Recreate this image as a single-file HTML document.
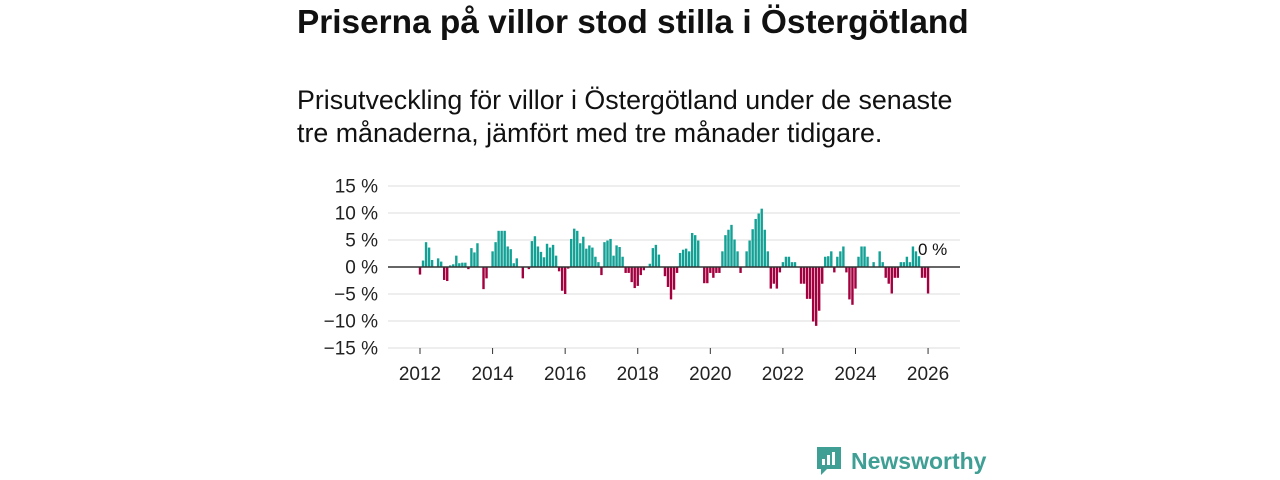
<!DOCTYPE html>
<html><head><meta charset="utf-8"><style>
body{margin:0;width:1280px;height:480px;background:#fff;font-family:"Liberation Sans","DejaVu Sans",sans-serif;color:#111;position:relative;overflow:hidden}
h1{position:absolute;left:297px;top:4px;margin:0;font-size:33.4px;font-weight:bold;white-space:nowrap}
.sub{position:absolute;left:297px;top:84px;margin:0;font-size:26.8px;line-height:33px;width:680px}
svg{position:absolute;left:0;top:0}
.logo{position:absolute;left:815px;top:445px;display:flex;align-items:center;gap:8px;color:#3f9f95;font-size:23px;font-weight:bold}
</style></head><body>
<h1>Priserna på villor stod stilla i Östergötland</h1>
<p class="sub">Prisutveckling för villor i Östergötland under de senaste<br>tre månaderna, jämfört med tre månader tidigare.</p>
<svg id="chart" width="1280" height="480"></svg>
<div class="logo">
<svg width="28" height="32" viewBox="0 0 28 32" style="position:static"><path d="M2 2h24v22H12l-6 6v-6H2z" fill="#3f9f95"/><rect x="7" y="14" width="3" height="6" fill="#fff"/><rect x="12" y="10" width="3" height="10" fill="#fff"/><rect x="17" y="7" width="3" height="13" fill="#fff"/></svg>
<span>Newsworthy</span></div>
<script>
const values=[-1.4,1.2,4.6,3.6,1.3,0,1.6,1.0,-2.4,-2.6,0.3,0.5,2.1,0.7,0.8,0.8,-0.4,3.5,2.7,4.4,0,-4.1,-2.1,0,2.9,4.6,6.7,6.7,6.7,3.8,3.3,0.7,1.6,0,-2.1,0,-0.4,4.8,5.7,3.8,2.8,1.8,4.3,3.6,4.1,2.1,-0.8,-4.4,-5.0,-0.3,5.2,7.1,6.7,4.4,5.6,
3.4,4.0,3.6,1.9,0.9,-1.5,4.6,4.9,5.2,2.1,4.0,3.7,1.9,-1.1,-1.1,-2.8,-3.9,-3.5,-1.5,-0.6,0,0.6,3.5,4.1,2.3,0.1,-1.7,-3.7,-6.0,-4.2,-1.1,2.6,3.2,3.4,2.9,6.3,5.9,4.9,0,-3.0,-3.0,-1.1,-2.0,-1.1,-1.1,2.9,5.9,6.9,7.8,5.1,2.9,-1.1,0,2.9,4.9,7.0,8.9,9.9,10.8,6.9,2.9,
-4.0,-3.1,-4.0,-1.0,
0.9,1.9,1.9,0.9,0.9,0,-3.1,-3.1,-5.9,-5.9,-10.1,-10.9,-8.1,-3.1,1.9,2.0,2.9,-1.0,1.9,2.9,3.8,-1.0,-6.0,-7.0,-4.0,1.9,3.8,3.8,1.9,0,0.9,0,2.9,0.9,-2.0,-3.1,-4.9,-2.0,-2.0,0.9,0.9,1.9,0.9,3.8,2.9,2.0,-2.0,-2.0,-4.9];
const startYear=2012;
const yTicks=[15,10,5,0,-5,-10,-15];
const yTickLabels=["15 %","10 %","5 %","0 %","−5 %","−10 %","−15 %"];
const xTicks=[2012,2014,2016,2018,2020,2022,2024,2026];
const lastLabel="0 %";
const NS="http://www.w3.org/2000/svg",svg=document.getElementById('chart');
const xs=t=>420+(t-2012)*36.29;
const ys=v=>267-v*5.4;
function mk(tag,a){const e=document.createElementNS(NS,tag);for(const k in a)e.setAttribute(k,a[k]);svg.appendChild(e);return e;}
yTicks.forEach((v,i)=>{
 if(v!==0){const g=mk('line',{x1:388,x2:960,y1:ys(v),y2:ys(v),stroke:'#ddd','stroke-width':1});
 
 }
 const t=mk('text',{x:378,y:ys(v)+6.5,'text-anchor':'end','font-size':19,fill:'#222'});
 t.textContent=yTickLabels[i];
 
 
});
xTicks.forEach(y=>{
 const l=mk('line',{x1:xs(y),x2:xs(y),y1:348,y2:354,stroke:'#333'});
 
 
 const t=mk('text',{x:xs(y),y:380,'text-anchor':'middle','font-size':19,fill:'#222'});
 t.textContent=y;
 
 
});
values.forEach((v,i)=>{
 const x=xs(startYear+i/12);
 const y0=ys(0),y1=ys(v);
 const r=mk('rect',{x:x-1.2,y:Math.min(y0,y1),width:2.4,height:Math.abs(y1-y0),fill:v>=0?'#13a195':'#a3003f'});
 
 
});
const z=mk('line',{x1:388,x2:960,y1:ys(0),y2:ys(0),stroke:'#333','stroke-width':1.5});


const lbl=mk('text',{x:918,y:255,'font-size':17,fill:'#111',stroke:'#fff','stroke-width':3,'paint-order':'stroke'});
lbl.textContent=lastLabel;


</script>
</body></html>
